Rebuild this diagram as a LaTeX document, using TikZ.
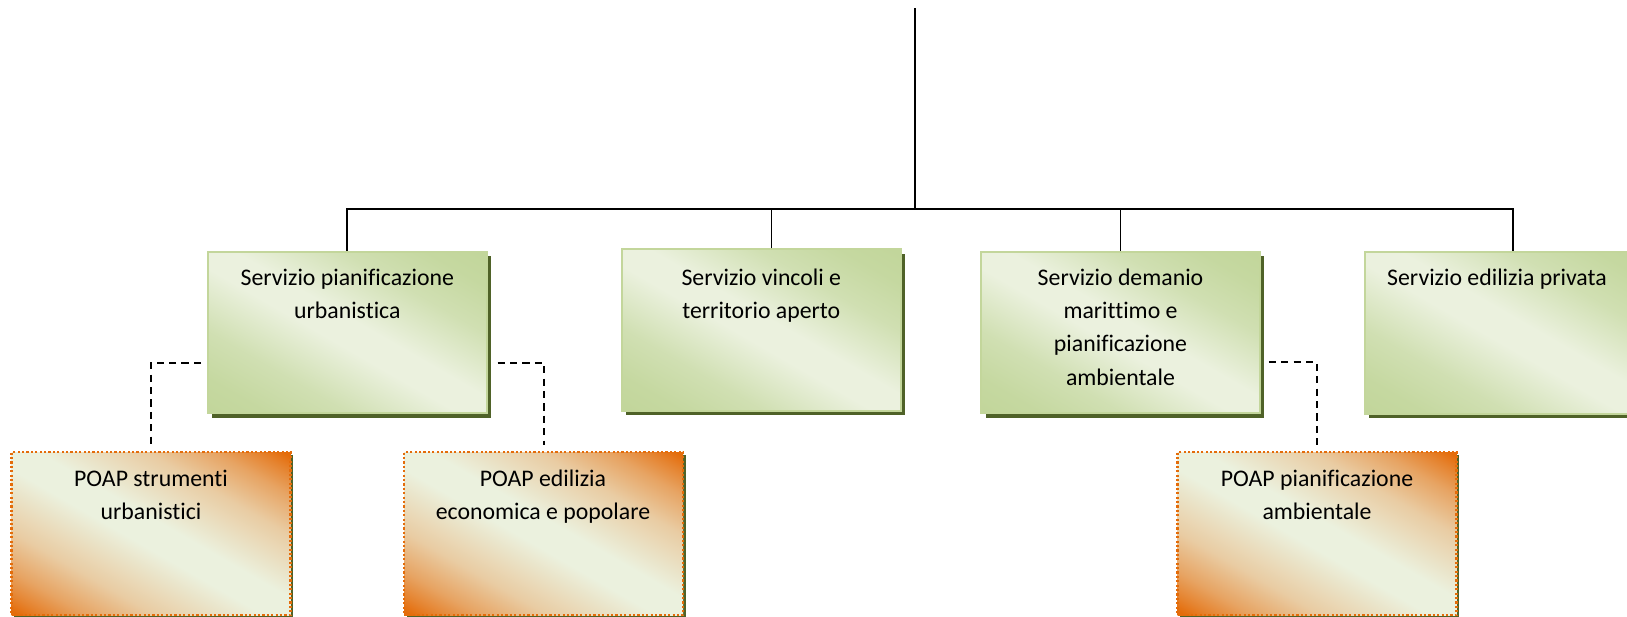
\documentclass[tikz,border=0pt]{standalone}
\usepackage{fontspec}
\setmainfont{Carlito}[Ligatures={NoCommon}]
\usetikzlibrary{shadows,calc}
\definecolor{gborder}{RGB}{195,214,155}
\definecolor{gdark}{RGB}{194,214,155}
\definecolor{glight}{RGB}{235,241,222}
\definecolor{oshadow}{RGB}{79,98,40}
\definecolor{orng}{RGB}{228,108,10}
\colorlet{oA}{orng!82!glight}
\colorlet{oB}{orng!58!glight}
\colorlet{oC}{orng!28!glight}
\colorlet{gA}{gdark!92!glight}
\colorlet{gB}{gdark!65!glight}
\pgfdeclarehorizontalshading{greenrefl}{100bp}{color(0bp)=(gdark); color(16.5bp)=(gdark); color(23.2bp)=(gA); color(33.25bp)=(gB); color(46.6bp)=(glight); color(53.4bp)=(glight); color(66.75bp)=(gB); color(76.8bp)=(gA); color(83.5bp)=(gdark); color(100bp)=(gdark)}
\pgfdeclarehorizontalshading{orangerefl}{100bp}{color(0bp)=(orng); color(16.5bp)=(orng); color(19.85bp)=(oA); color(24.9bp)=(oB); color(33.25bp)=(oC); color(46.6bp)=(glight); color(53.4bp)=(glight); color(66.75bp)=(oC); color(75.1bp)=(oB); color(80.15bp)=(oA); color(83.5bp)=(orng); color(100bp)=(orng)}
\newcommand\boxlines[1]{\parbox[t]{150pt}{\centering\fontsize{11.9pt}{16.7pt}\selectfont #1}}
\tikzset{
  servbox/.style={rectangle, draw=gborder, line width=1pt, minimum width=139.3pt, minimum height=80.7pt, inner sep=0pt, shading=greenrefl, shading angle=60, general shadow={fill=oshadow, shadow xshift=2.2pt, shadow yshift=-2.2pt}},
  poapbox/.style={rectangle, draw=orng, line width=1.2pt, dash pattern=on 1.1pt off 1.1pt, minimum width=139.5pt, minimum height=81.5pt, inner sep=0pt, shading=orangerefl, shading angle=60, general shadow={fill=oshadow, shadow xshift=1.3pt, shadow yshift=-1.3pt}},
  boxtext/.style={anchor=base, inner sep=0pt},
  link/.style={line width=0.85pt, black},
  dashlink/.style={line width=1pt, black, dash pattern=on 3.6pt off 2.6pt, shorten <=3pt, shorten >=3pt},
}
\begin{document}
\begin{tikzpicture}[x=0.5pt, y=-0.5pt]
\useasboundingbox (0,0) rectangle (1627,616);
% boxes
\node[servbox] (b1) at (347.3,332.6) {};
\node[servbox] (b2) at (761.3,330) {};
\node[servbox] (b3) at (1120.5,332.4) {};
\node[servbox, minimum width=147.7pt] (b4) at (1512.7,333) {};
\node[poapbox] (p1) at (151,533.5) {};
\node[poapbox] (p2) at (543.7,533.5) {};
\node[poapbox] (p3) at (1317,533.5) {};
% texts
\node[boxtext] (t1) at (347.3,285) {\boxlines{Servizio pianificazione\\urbanistica}};
\node[boxtext] (t2) at (761.3,285) {\boxlines{Servizio vincoli e\\territorio aperto}};
\node[boxtext] (t3) at (1120.5,285) {\boxlines{Servizio demanio\\marittimo e\\pianificazione\\ambientale}};
\node[boxtext] (t4) at (1497,285) {\boxlines{Servizio edilizia privata}};
\node[boxtext] (u1) at (151,486) {\boxlines{POAP strumenti\\urbanistici}};
\node[boxtext] (u2) at (543,486) {\boxlines{POAP edilizia\\economica e popolare}};
\node[boxtext] (u3) at (1317,486) {\boxlines{POAP pianificazione\\ambientale}};
% solid connectors
\coordinate (root) at (915,8);
\coordinate (bus) at (915,209);
\draw[link] (root) -- (bus);
\draw[link] (b1.north) -- (b1.north |- bus) -- (b4.north |- bus) -- (b4.north);
\draw[link] ($(b2.north)+(10.3,0)$) -- ($(b2.north |- bus)+(10.3,0)$);
\draw[link] (b3.north) -- (b3.north |- bus);
% dashed connectors
\draw[dashlink] ($(b1.west)+(0,30)$) -| (p1.north);
\draw[dashlink] ($(b1.east)+(4,30)$) -| (p2.north);
\draw[dashlink] ($(b3.east)+(2,30)$) -| (p3.north);
\end{tikzpicture}
\end{document}
